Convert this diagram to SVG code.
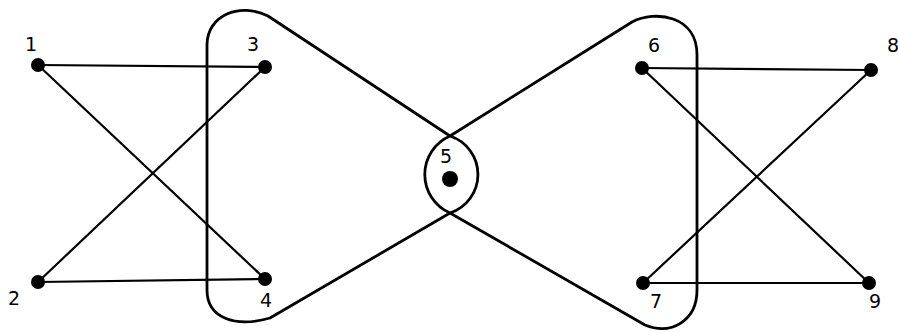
<svg xmlns="http://www.w3.org/2000/svg" width="898" height="333" viewBox="0 0 898 333">
<style>
.e{stroke:#000;stroke-width:2.2;fill:none;stroke-linecap:round}
.h{stroke:#000;stroke-width:2.8;fill:none;stroke-linejoin:round}
.n{fill:#000}
.t{font-family:"DejaVu Sans",sans-serif;font-size:19px;fill:#000}
</style>
<rect width="898" height="333" fill="#fff"/>
<g id="hulls">
<path class="h" d="M450,136 L268,16 C240,2 207,15 207,45 L207,290 C207,318 235,328 270,318 L450,213"/>
<path class="h" d="M450,136 L632,22 C655,10 697,15 697,55 L697,290 C697,320 672,336 645,325 L450,213"/>
<path class="h" d="M450,136 A42,42 0 0 0 450,213 A40.5,40.5 0 0 0 450,136 Z"/>
</g>
<g id="connectors">
<line class="e" x1="38" y1="65" x2="265" y2="67"/>
<line class="e" x1="38" y1="65" x2="265" y2="279"/>
<line class="e" x1="38" y1="282" x2="265" y2="67"/>
<line class="e" x1="38" y1="282" x2="265" y2="279"/>
<line class="e" x1="642" y1="68" x2="871" y2="70"/>
<line class="e" x1="642" y1="68" x2="869" y2="283"/>
<line class="e" x1="643" y1="283" x2="871" y2="70"/>
<line class="e" x1="643" y1="283" x2="869" y2="283"/>
</g>
<g id="n1"><circle class="n" cx="38" cy="65" r="7"/><text class="t" x="25" y="51">1</text></g>
<g id="n2"><circle class="n" cx="38" cy="282" r="7"/><text class="t" x="8" y="305">2</text></g>
<g id="n3"><circle class="n" cx="265" cy="67" r="7"/><text class="t" x="247" y="51">3</text></g>
<g id="n4"><circle class="n" cx="265" cy="279" r="7"/><text class="t" x="260" y="307">4</text></g>
<g id="n5"><circle class="n" cx="450" cy="179" r="8"/><text class="t" x="440" y="163">5</text></g>
<g id="n6"><circle class="n" cx="642" cy="68" r="7"/><text class="t" x="648" y="52">6</text></g>
<g id="n7"><circle class="n" cx="643" cy="283" r="7"/><text class="t" x="650" y="308">7</text></g>
<g id="n8"><circle class="n" cx="871" cy="70" r="7"/><text class="t" x="887" y="52">8</text></g>
<g id="n9"><circle class="n" cx="869" cy="283" r="7"/><text class="t" x="869" y="308">9</text></g>
</svg>
